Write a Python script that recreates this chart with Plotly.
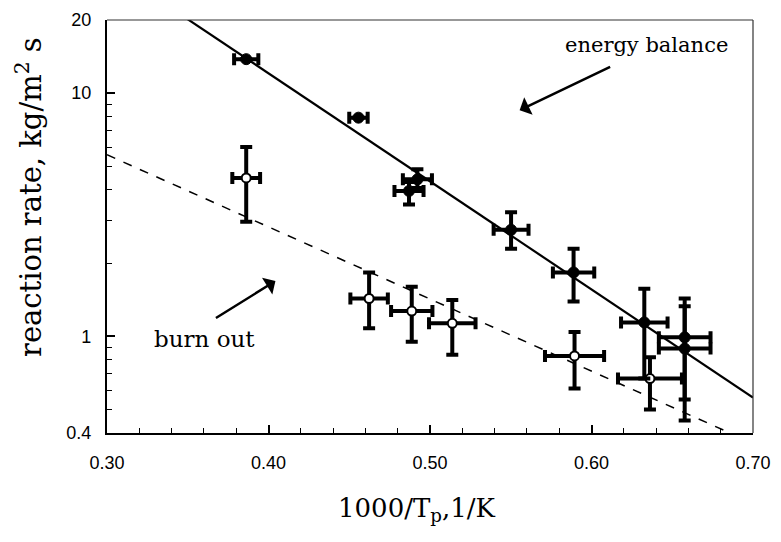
import plotly.graph_objects as go

# ---- data ----
# energy balance measurements (filled circles)
eb_x = [0.3862, 0.4557, 0.4922, 0.4870, 0.5502, 0.5889, 0.6327, 0.6577, 0.6577]
eb_y = [13.8, 7.93, 4.42, 3.96, 2.74, 1.83, 1.14, 0.99, 0.89]
eb_xerr = [0.0075, 0.0057, 0.009, 0.009, 0.0108, 0.0128, 0.0144, 0.016, 0.016]
eb_yerr_plus = [0.0, 0.0, 0.44, 0.35, 0.50, 0.46, 0.43, 0.44, 0.44]
eb_yerr_minus = [0.0, 0.0, 0.35, 0.48, 0.45, 0.44, 0.47, 0.44, 0.44]

# burn out measurements (open circles)
bo_x = [0.3862, 0.4623, 0.4887, 0.5138, 0.5895, 0.6362]
bo_y = [4.48, 1.43, 1.27, 1.13, 0.83, 0.67]
bo_xerr = [0.0086, 0.0116, 0.0128, 0.0144, 0.0183, 0.0198]
bo_yerr_plus = [1.53, 0.40, 0.33, 0.28, 0.21, 0.15]
bo_yerr_minus = [1.52, 0.35, 0.32, 0.29, 0.22, 0.17]

# fitted lines
eb_fit_x = [0.30, 0.70]
eb_fit_y = [33.6, 0.56]
bo_fit_x = [0.30, 0.70]
bo_fit_y = [5.58, 0.363]

x_ticks = [0.30, 0.40, 0.50, 0.60, 0.70]
x_tick_text = ["0.30", "0.40", "0.50", "0.60", "0.70"]
x_minor = [0.32, 0.34, 0.36, 0.38, 0.42, 0.44, 0.46, 0.48, 0.52, 0.54, 0.56, 0.58,
           0.62, 0.64, 0.66, 0.68]
y_ticks = [0.4, 1, 10, 20]
y_tick_text = ["0.4", "1", "10", "20"]
y_minor = [0.5, 0.6, 0.7, 0.8, 0.9, 2, 3, 4, 5, 6, 7, 8, 9]

x_title = "1000/T<sub>p</sub>,1/K"
y_title = "reaction rate, kg/m<sup>2</sup> s"

serif = "DejaVu Serif"
sans = "Liberation Sans"

W, H = 781, 542
L, R, T, B = 107, 26, 10, 109


def px_to_paper(px, py):
    return (px - L) / (W - L - R), (H - B - py) / (H - T - B)


fig = go.Figure()

fig.add_trace(go.Scatter(x=eb_fit_x, y=eb_fit_y, mode="lines",
                         line=dict(color="black", width=2.2), showlegend=False,
                         hoverinfo="skip"))
fig.add_trace(go.Scatter(x=bo_fit_x, y=bo_fit_y, mode="lines",
                         line=dict(color="black", width=1.5, dash="dash"),
                         showlegend=False, hoverinfo="skip"))

fig.add_trace(go.Scatter(
    x=bo_x, y=bo_y, mode="markers", name="burn out", showlegend=False,
    marker=dict(symbol="circle", size=9, color="white",
                line=dict(color="black", width=2)),
    error_x=dict(type="data", array=bo_xerr, color="black", thickness=4, width=6),
    error_y=dict(type="data", symmetric=False, array=bo_yerr_plus,
                 arrayminus=bo_yerr_minus, color="black", thickness=4, width=6),
))
fig.add_trace(go.Scatter(
    x=eb_x, y=eb_y, mode="markers", name="energy balance", showlegend=False,
    marker=dict(symbol="circle", size=11, color="black",
                line=dict(color="black", width=1)),
    error_x=dict(type="data", array=eb_xerr, color="black", thickness=4, width=6),
    error_y=dict(type="data", symmetric=False, array=eb_yerr_plus,
                 arrayminus=eb_yerr_minus, color="black", thickness=4, width=6),
))

fig.add_annotation(x=0.634, y=1.2, xref="x", yref="y", text="energy balance",
                   showarrow=False, font=dict(family=serif, size=21, color="black"))
fig.add_annotation(x=0.3605, y=-0.0123, xref="x", yref="y", text="burn out",
                   showarrow=False, font=dict(family=serif, size=23, color="black"))
# arrows
fig.add_annotation(x=0.5555, y=0.93, xref="x", yref="y", text="", showarrow=True,
                   ax=92, ay=-44, arrowhead=1, arrowsize=1.3, arrowwidth=2.5,
                   arrowcolor="black")
fig.add_annotation(x=0.4043, y=0.2274, xref="x", yref="y", text="", showarrow=True,
                   ax=-61, ay=38, arrowhead=1, arrowsize=1.3, arrowwidth=2.5,
                   arrowcolor="black")

# axis titles
xt = px_to_paper(418, 511)
fig.add_annotation(x=xt[0], y=xt[1], xref="paper", yref="paper", text=x_title,
                   xanchor="center", yanchor="middle",
                   showarrow=False, font=dict(family=serif, size=26, color="black"))
yt = px_to_paper(28, 191)
fig.add_annotation(x=yt[0], y=yt[1], xref="paper", yref="paper", text=y_title,
                   xanchor="center", yanchor="middle",
                   textangle=-90, showarrow=False,
                   font=dict(family=serif, size=29, color="black"))

# thin top/right frame
fig.add_shape(type="line", xref="x domain", yref="y domain", x0=0, x1=1, y0=1, y1=1,
              line=dict(color="#333", width=1.2))
fig.add_shape(type="line", xref="x domain", yref="y domain", x0=1, x1=1, y0=0, y1=1,
              line=dict(color="#333", width=1.2))

fig.update_layout(
    width=W, height=H,
    margin=dict(l=L, r=R, t=T, b=B),
    paper_bgcolor="white", plot_bgcolor="white",
    showlegend=False,
)

fig.update_xaxes(
    range=[0.30, 0.70], tickvals=x_ticks, ticktext=x_tick_text,
    ticks="inside", ticklen=8, tickwidth=1.5, tickcolor="black",
    minor=dict(tickvals=x_minor, ticks="inside", ticklen=5, tickwidth=1.2,
               tickcolor="black"),
    showline=True, linewidth=2.2, linecolor="black", mirror=False,
    showgrid=False, zeroline=False,
    tickfont=dict(family=sans, size=18, color="black"), ticklabelstandoff=12,
)
fig.update_yaxes(
    type="log", range=[-0.39794, 1.30103], tickvals=y_ticks, ticktext=y_tick_text,
    ticks="inside", ticklen=8, tickwidth=1.5, tickcolor="black",
    minor=dict(tickvals=y_minor, ticks="inside", ticklen=5, tickwidth=1.2,
               tickcolor="black"),
    showline=True, linewidth=2.2, linecolor="black", mirror=False,
    showgrid=False, zeroline=False,
    tickfont=dict(family=sans, size=18, color="black"), ticklabelstandoff=10,
)

fig.write_html("out.html")
